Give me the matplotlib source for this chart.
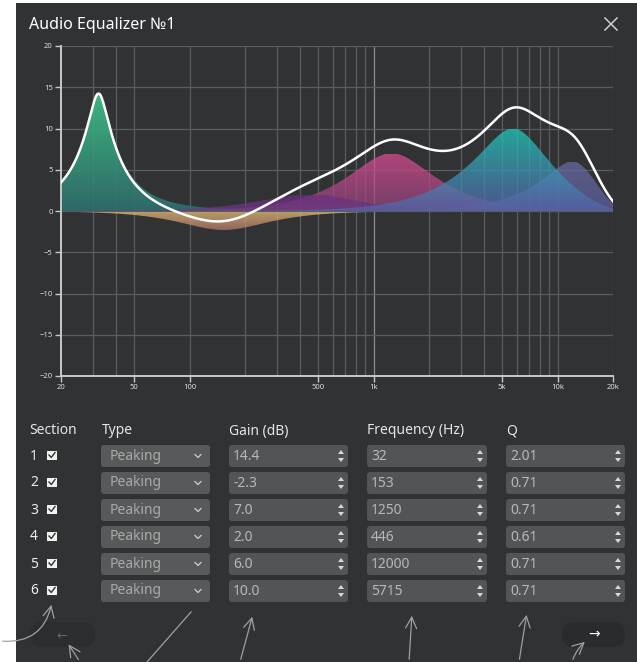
import numpy as np
import matplotlib
matplotlib.use('Agg')
import matplotlib.pyplot as plt
from matplotlib.patches import FancyBboxPatch, Rectangle, Polygon
from matplotlib.colors import to_rgb

plt.rcParams['font.family'] = ['Noto Sans', 'DejaVu Sans']

'''
    EQ sections as shown in the table
'''
section_ids = ['1', '2', '3', '4', '5', '6']
filter_types = ['Peaking'] * 6
gains = [14.4, -2.3, 7.0, 2.0, 6.0, 10.0]
freqs = [32, 153, 1250, 446, 12000, 5715]
qs = [2.01, 0.71, 0.71, 0.61, 0.71, 0.71]
gain_labels = ['14.4', '-2.3', '7.0', '2.0', '6.0', '10.0']
freq_labels = ['32', '153', '1250', '446', '12000', '5715']
q_labels = ['2.01', '0.71', '0.71', '0.61', '0.71', '0.71']

x_ticks = [20, 50, 100, 500, 1000, 5000, 10000, 20000]
x_tick_labels = ['20', '50', '100', '500', '1k', '5k', '10k', '20k']
x_grid = [30, 40, 200, 300, 400, 600, 700, 800, 900,
          2000, 3000, 4000, 6000, 7000, 8000, 9000]
y_ticks = [-20, -15, -10, -5, 0, 5, 10, 15, 20]

# (peak colour, colour at 0 dB) for every section
fill_colors = [('#3fc286', '#2e6e6c'),
               ('#b8776e', '#e6c676'),
               ('#dd4c94', '#8b4478'),
               ('#6b2d80', '#6b3a84'),
               ('#6a6aa0', '#5a5e9c'),
               ('#1ecdbb', '#5662aa')]

SAMPLE_RATE = 48000
PANEL = '#313234'


def peaking_db(f, f0, gain, q):
    A = 10 ** (gain / 40.)
    w0 = 2 * np.pi * f0 / SAMPLE_RATE
    alpha = np.sin(w0) / (2 * q)
    b0, b1, b2 = 1 + alpha * A, -2 * np.cos(w0), 1 - alpha * A
    a0, a1, a2 = 1 + alpha / A, -2 * np.cos(w0), 1 - alpha / A
    z = np.exp(-1j * 2 * np.pi * f / SAMPLE_RATE)
    h = (b0 + b1 * z + b2 * z ** 2) / (a0 + a1 * z + a2 * z ** 2)
    return 20 * np.log10(np.abs(h))


def gradient_fill(ax, x, y, c_peak, c_base, alpha, z):
    poly = ax.fill_between(x, 0, y, color='none', lw=0)
    path = poly.get_paths()[0]
    ext = y.max() if y.max() > -y.min() else y.min()
    t = np.linspace(0, 1, 256)[:, None]
    p = np.array(to_rgb(c_peak))
    b = np.array(to_rgb(c_base))
    rgb = b + (p - b) * t
    img = np.concatenate([rgb, np.full((256, 1), alpha)], axis=1)[:, None, :]
    lo, hi = (0, ext) if ext > 0 else (ext, 0)
    if ext < 0:
        img = img[::-1]
    im = ax.imshow(img, extent=[x.min(), x.max(), lo, hi], origin='lower',
                   aspect='auto', zorder=z, interpolation='bilinear')
    im.set_clip_path(path, ax.transData)


fig = plt.figure(figsize=(6.37, 6.62), dpi=100, facecolor='white')

# ui layer in pixel coordinates
ui = fig.add_axes([0, 0, 1, 1], zorder=0)
ui.set_xlim(0, 637)
ui.set_ylim(662, 0)
ui.axis('off')
ui.add_patch(Rectangle((16, 3), 621, 660, color=PANEL, lw=0))

ui.text(29, 25, 'Audio Equalizer №1', color='white', fontsize=11.5,
        fontweight='bold', va='center')
ui.plot([605, 617], [18, 30], color='#cfcfcf', lw=1.1)
ui.plot([605, 617], [30, 18], color='#cfcfcf', lw=1.1)

# chart
ax = fig.add_axes([61 / 637, 1 - 376 / 662, 552 / 637, 330 / 662], zorder=1)
ax.set_facecolor('none')
f = np.logspace(np.log10(20), np.log10(20000), 800)
responses = [peaking_db(f, f0, g, q) for f0, g, q in zip(freqs, gains, qs)]

for i, r in enumerate(responses):
    gradient_fill(ax, f, r, fill_colors[i][0], fill_colors[i][1],
                  0.92 if i == 0 else 0.75, 2 + i)
ax.plot(f, np.sum(responses, axis=0), color='white', lw=1.8, zorder=10)

ax.set_xscale('log')
ax.set_xlim(20, 20000)
ax.set_ylim(-20, 20)
for g in x_grid + x_ticks[1:-1]:
    ax.axvline(g, color='#8c8c8c' if g == 1000 else '#5b5c5d', lw=0.9, zorder=1)
ax.axvline(20000, color='#5b5c5d', lw=0.9, zorder=1)
for v in y_ticks[1:]:
    ax.axhline(v, color='#5b5c5d', lw=0.9, zorder=1)
ax.set_xticks(x_ticks)
ax.set_xticklabels(x_tick_labels)
ax.xaxis.set_minor_locator(matplotlib.ticker.NullLocator())
ax.set_yticks(y_ticks)
ax.tick_params(colors='#c8c8c8', labelcolor='#dcdcdc', labelsize=5.5,
               length=4, width=1, pad=2)
for s in ['top', 'right']:
    ax.spines[s].set_visible(False)
for s in ['left', 'bottom']:
    ax.spines[s].set_color('#c8c8c8')
    ax.spines[s].set_linewidth(1.4)
for lab in ax.get_xticklabels() + ax.get_yticklabels():
    lab.set_fontweight('bold')

# table
headers = [(29, 'Section'), (102, 'Type'), (229, 'Gain (dB)'),
           (367, 'Frequency (Hz)'), (506, 'Q')]
for hx, txt in headers:
    ui.text(hx, 431, txt, color='#e6e6e6', fontsize=10, va='center')


def box(x0, x1, yc, color):
    ui.add_patch(FancyBboxPatch((x0 + 3, yc - 8), x1 - x0 - 6, 16,
                                boxstyle='round,pad=3', color=color, lw=0))


def spinner(x1, yc):
    sx = x1 - 7
    ui.add_patch(Polygon([[sx - 3, yc - 2], [sx + 3, yc - 2], [sx, yc - 6]],
                         color='#d8d8d8', lw=0))
    ui.add_patch(Polygon([[sx - 3, yc + 2], [sx + 3, yc + 2], [sx, yc + 6]],
                         color='#d8d8d8', lw=0))


for i in range(len(section_ids)):
    yc = 456 + 27 * i
    ui.text(30, yc, section_ids[i], color='#ececec', fontsize=10, va='center')
    ui.add_patch(Rectangle((47, yc - 5.5), 9.5, 9.5, color='#f2f2f2', lw=0))
    ui.plot([49, 51.3, 55], [yc - 1, yc + 1.5, yc - 3.5], color='#333333', lw=1)
    box(101, 210, yc, '#58595a')
    ui.text(110, yc, filter_types[i], color='#a9a9a9', fontsize=10, va='center')
    ui.plot([195, 198, 201], [yc - 1.5, yc + 1.5, yc - 1.5], color='#d0d0d0', lw=0.9)
    for x0, x1, lab in [(229, 348, gain_labels[i]), (367, 487, freq_labels[i]),
                        (506, 625, q_labels[i])]:
        box(x0, x1, yc, '#535455')
        ui.text(x0 + 4, yc + 0.5, lab, color='#b8b8b8', fontsize=10, va='center')
        spinner(x1, yc)

# nav buttons
ui.add_patch(FancyBboxPatch((30, 622), 65, 25, boxstyle='round,pad=0,rounding_size=12',
                            color='#2c2d2e', lw=0))
ui.text(62, 636, '←', color='#666666', fontsize=9, ha='center', va='center')
ui.add_patch(FancyBboxPatch((562, 622), 63, 25, boxstyle='round,pad=0,rounding_size=12',
                            color='#2a2b2c', lw=0))
ui.text(594, 635, '→', color='white', fontsize=10, ha='center', va='center')

# sketched arrows
pen = dict(color='#a0a0a0', lw=0.9)
arrows = [((0, 641), (52, 602), 0.45), ((80, 662), (67, 642), 0.0),
          ((240, 662), (253, 614), 0.0), ((409, 662), (412, 613), 0.0),
          ((519, 662), (527, 612), 0.0), ((572, 662), (587, 640), -0.15)]
for start, end, rad in arrows:
    ui.annotate('', xy=end, xytext=start,
                arrowprops=dict(arrowstyle='->,head_length=0.8,head_width=0.4',
                                connectionstyle='arc3,rad=%s' % rad, **pen))
ui.plot([191, 147], [612, 662], **pen)

fig.savefig('out.png', dpi=100, facecolor='white')
